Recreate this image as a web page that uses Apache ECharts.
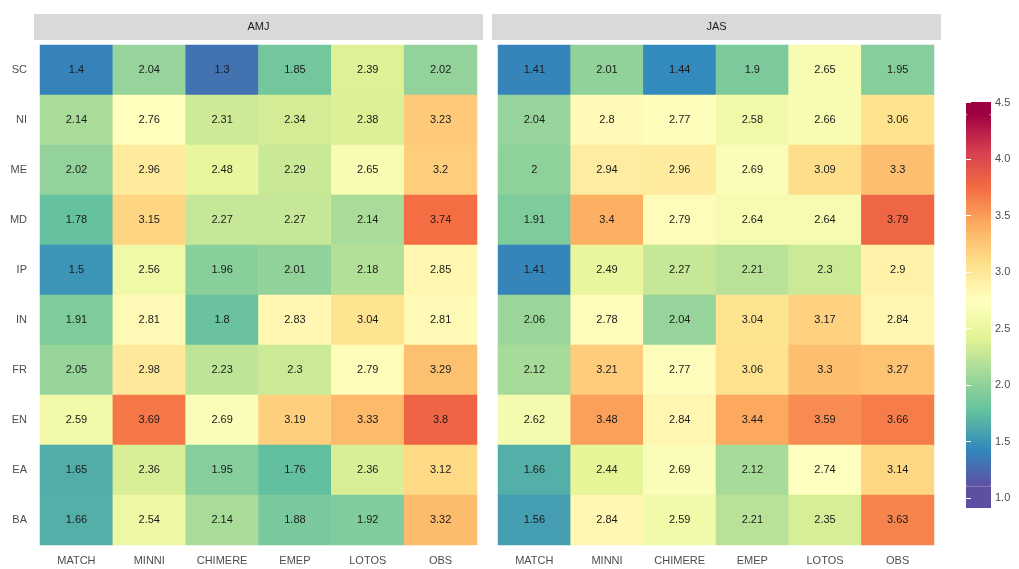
<!DOCTYPE html>
<html>
<head>
<meta charset="utf-8">
<script src="https://cdn.jsdelivr.net/npm/echarts@6/dist/echarts.min.js"></script>
<style>
html,body{margin:0;padding:0;background:#fff;}
#chart{width:1019px;height:569px;}
</style>
</head>
<body>
<div id="chart"></div>
<script>
// ---- data ----
var models = ['MATCH', 'MINNI', 'CHIMERE', 'EMEP', 'LOTOS', 'OBS'];
var regions = ['SC', 'NI', 'ME', 'MD', 'IP', 'IN', 'FR', 'EN', 'EA', 'BA'];
var panels = ['AMJ', 'JAS'];
var amjValues = [
  [1.4, 2.04, 1.3, 1.85, 2.39, 2.02],
  [2.14, 2.76, 2.31, 2.34, 2.38, 3.23],
  [2.02, 2.96, 2.48, 2.29, 2.65, 3.2],
  [1.78, 3.15, 2.27, 2.27, 2.14, 3.74],
  [1.5, 2.56, 1.96, 2.01, 2.18, 2.85],
  [1.91, 2.81, 1.8, 2.83, 3.04, 2.81],
  [2.05, 2.98, 2.23, 2.3, 2.79, 3.29],
  [2.59, 3.69, 2.69, 3.19, 3.33, 3.8],
  [1.65, 2.36, 1.95, 1.76, 2.36, 3.12],
  [1.66, 2.54, 2.14, 1.88, 1.92, 3.32]
];
var jasValues = [
  [1.41, 2.01, 1.44, 1.9, 2.65, 1.95],
  [2.04, 2.8, 2.77, 2.58, 2.66, 3.06],
  [2, 2.94, 2.96, 2.69, 3.09, 3.3],
  [1.91, 3.4, 2.79, 2.64, 2.64, 3.79],
  [1.41, 2.49, 2.27, 2.21, 2.3, 2.9],
  [2.06, 2.78, 2.04, 3.04, 3.17, 2.84],
  [2.12, 3.21, 2.77, 3.06, 3.3, 3.27],
  [2.62, 3.48, 2.84, 3.44, 3.59, 3.66],
  [1.66, 2.44, 2.69, 2.12, 2.74, 3.14],
  [1.56, 2.84, 2.59, 2.21, 2.35, 3.63]
];
var legendTicks = [1.0, 1.5, 2.0, 2.5, 3.0, 3.5, 4.0, 4.5];
var colorMin = 1.1, colorMax = 4.4;
var spectral = ['#5e4fa2', '#3288bd', '#62c09e', '#a0d89a', '#e4f494', '#ffffbf', '#fee08b', '#fdae61', '#f46d43', '#d53e4f', '#9e0142'];

function toTriples(rows) {
  var out = [];
  rows.forEach(function (row, r) {
    row.forEach(function (v, c) { out.push([c, r, v]); });
  });
  return out;
}

var FONT = '"Liberation Sans", Arial, sans-serif';
var chart = echarts.init(document.getElementById('chart'), null, { renderer: 'canvas' });

// colour-bar geometry: axis 1.0..4.5 spans y 102.7..498
var barTop = 102.7, barLen = 395.3, barLeft = 966, barW = 25;
function yOf(v) { return barTop + (4.5 - v) / 3.5 * barLen; }

var grids = [
  { left: 40, top: 45, width: 437, height: 500 },
  { left: 498, top: 45, width: 436, height: 500 },
  { left: barLeft, top: barTop, width: barW, height: barLen }
];

function catX(gi) {
  return {
    type: 'category', gridIndex: gi, data: models,
    axisLine: { show: false }, axisTick: { show: false }, splitLine: { show: false },
    axisLabel: { color: '#4d4d4d', fontSize: 11, fontFamily: FONT, margin: 10 }
  };
}
function catY(gi, showLabels) {
  return {
    type: 'category', gridIndex: gi, data: regions, inverse: true,
    axisLine: { show: false }, axisTick: { show: false }, splitLine: { show: false },
    axisLabel: { show: showLabels, color: '#4d4d4d', fontSize: 11, fontFamily: FONT, margin: 13 }
  };
}

function heat(gi, rows) {
  return {
    type: 'heatmap', xAxisIndex: gi, yAxisIndex: gi,
    data: toTriples(rows),
    label: {
      show: true, color: '#1a1a1a', fontSize: 11, fontFamily: FONT,
      formatter: function (p) { return String(p.value[2]); }
    },
    itemStyle: { borderWidth: 0 },
    emphasis: { disabled: true }
  };
}

var vmTop = yOf(colorMax), vmBottom = yOf(colorMin);

var option = {
  backgroundColor: '#ffffff',
  animation: false,
  grid: grids,
  xAxis: [catX(0), catX(1),
    { type: 'value', gridIndex: 2, show: false, min: 0, max: 1 }],
  yAxis: [catY(0, true), catY(1, false),
    {
      type: 'value', gridIndex: 2, position: 'right', min: 1, max: 4.5, interval: 0.5, z: 10,
      axisLine: { show: false }, splitLine: { show: false },
      axisTick: { show: true, inside: true, length: 5, lineStyle: { color: '#ffffff', width: 1 } },
      axisLabel: {
        color: '#4d4d4d', fontSize: 11, fontFamily: FONT, margin: 4,
        formatter: function (v) { return legendTicks.indexOf(v) >= 0 ? v.toFixed(1) : ''; }
      }
    },
    {
      type: 'value', gridIndex: 2, position: 'left', min: 1, max: 4.5, interval: 0.5, z: 10,
      axisLine: { show: false }, splitLine: { show: false },
      axisTick: { show: true, inside: true, length: 5, lineStyle: { color: '#ffffff', width: 1 } },
      axisLabel: { show: false }
    }
  ],
  visualMap: {
    type: 'continuous', min: colorMin, max: colorMax, dimension: 2,
    seriesIndex: [0, 1], calculable: false, realtime: false,
    left: barLeft, top: vmTop, itemWidth: barW, itemHeight: vmBottom - vmTop, padding: 0,
    text: null, showLabel: false, z: 2,
    inRange: { color: spectral }
  },
  graphic: [
    { type: 'rect', shape: { x: 34, y: 14, width: 449, height: 26 }, style: { fill: '#d9d9d9' }, z: 1 },
    { type: 'text', x: 258.5, y: 27, style: { text: panels[0], fill: '#1a1a1a', fontSize: 11, fontFamily: FONT, textAlign: 'center', textVerticalAlign: 'middle' }, z: 2 },
    { type: 'rect', shape: { x: 492, y: 14, width: 449, height: 26 }, style: { fill: '#d9d9d9' }, z: 1 },
    { type: 'text', x: 716.5, y: 27, style: { text: panels[1], fill: '#1a1a1a', fontSize: 11, fontFamily: FONT, textAlign: 'center', textVerticalAlign: 'middle' }, z: 2 },
    // clamped ends of the colour bar
    { type: 'rect', shape: { x: barLeft, y: 102, width: barW, height: vmTop - 102 + 0.5 }, style: { fill: spectral[spectral.length - 1] }, z: 1 },
    { type: 'rect', shape: { x: barLeft, y: vmBottom - 0.5, width: barW, height: 508 - vmBottom + 0.5 }, style: { fill: spectral[0] }, z: 1 }
  ],
  series: [heat(0, amjValues), heat(1, jasValues)]
};
chart.setOption(option);
</script>
</body>
</html>
